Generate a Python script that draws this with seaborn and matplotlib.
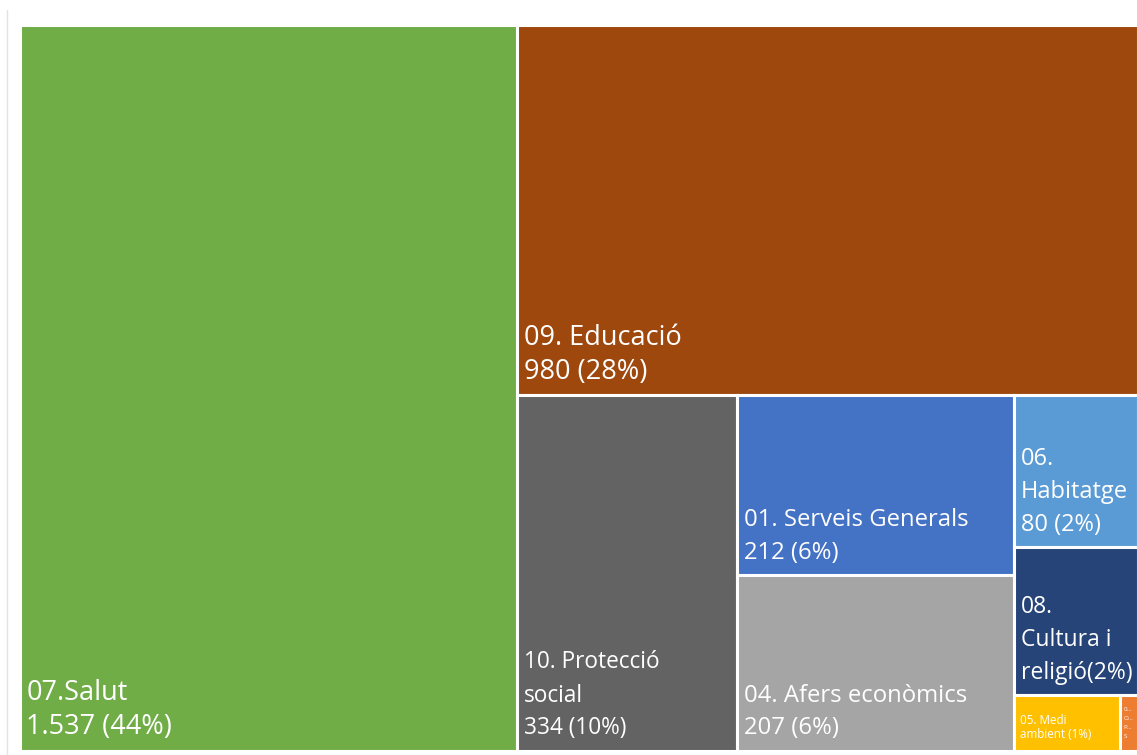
import matplotlib
matplotlib.use("Agg")
import matplotlib.pyplot as plt
from matplotlib.patches import Rectangle
import seaborn as sns

# ---- data ----
categories = ["07.Salut", "09. Educació", "10. Protecció social", "01. Serveis Generals",
              "04. Afers econòmics", "06. Habitatge", "08. Cultura i religió",
              "05. Medi ambient", "03. Ordre Públic i Seguretat"]
values = [1537, 980, 334, 212, 207, 80, 78, 25, 4]
value_labels = ["1.537", "980", "334", "212", "207", "80", "78", "25", "4"]
pct_labels = ["(44%)", "(28%)", "(10%)", "(6%)", "(6%)", "(2%)", "(2%)", "(1%)", "(0%)"]
colors = ["#70AD47", "#9E480E", "#636363", "#4472C4", "#A5A5A5",
          "#5B9BD5", "#264478", "#FFC000", "#ED7D31"]

# label lines as they are wrapped in the tiles
label_lines = [
    ["07.Salut", "1.537 (44%)"],
    ["09. Educació", "980 (28%)"],
    ["10. Protecció", "social", "334 (10%)"],
    ["01. Serveis Generals", "212 (6%)"],
    ["04. Afers econòmics", "207 (6%)"],
    ["06.", "Habitatge", "80 (2%)"],
    ["08.", "Cultura i", "religió(2%)"],
    ["05. Medi", "ambient (1%)"],
    ["0...", "O...", "P...", "S"],
]
font_sizes = [19.5, 19.5, 16.3, 17.2, 17.2, 17, 16.5, 8.4, 4.5]
line_steps = [34, 34, 33, 33, 33, 33, 33, 15, 9]

W, H = 1115.0, 723.0


def worst(row, length):
    s = sum(row)
    return max(max(length ** 2 * r / s ** 2, s ** 2 / (length ** 2 * r)) for r in row)


def squarify(vals, x, y, w, h):
    total = sum(vals)
    areas = [v / total * w * h for v in vals]
    rects = []
    i = 0
    while i < len(areas):
        length = min(w, h)
        row = [areas[i]]
        i += 1
        while i < len(areas) and worst(row + [areas[i]], length) <= worst(row, length):
            row.append(areas[i])
            i += 1
        s = sum(row)
        if w >= h:
            cw = s / h
            yy = y
            for a in row:
                rh = a / cw
                rects.append((x, yy, cw, rh))
                yy += rh
            x += cw
            w -= cw
        else:
            rh = s / w
            xx = x
            for a in row:
                rw = a / rh
                rects.append((xx, y, rw, rh))
                xx += rw
            y += rh
            h -= rh
    return rects


sns.set_theme(style="white")
plt.rcParams["font.family"] = ["Open Sans", "DejaVu Sans"]

fig = plt.figure(figsize=(11.37, 7.55), dpi=100)
ax = fig.add_axes([19.5 / 1137, 4.5 / 755, 1118 / 1137, 726 / 755])
ax.set_xlim(0, W)
ax.set_ylim(H, 0)
ax.axis("off")

rects = squarify(values, 0, 0, W, H)
for (x, y, w, h), c in zip(rects, colors):
    ax.add_patch(Rectangle((x, y), w, h, facecolor=c, edgecolor="white", linewidth=2.2, zorder=1))

for (x, y, w, h), lines, fs, step in zip(rects, label_lines, font_sizes, line_steps):
    n = len(lines)
    base_off = 16 if fs > 10 else (12 if fs > 5 else 13)
    left_off = 7 if fs > 10 else (6 if fs > 5 else 3)
    for k, line in enumerate(lines):
        dy = base_off + (n - 1 - k) * step
        ax.annotate(line, xy=(x, y + h), xytext=(left_off, dy), textcoords="offset pixels",
                    ha="left", va="baseline", color="white", fontsize=fs, zorder=5,
                    annotation_clip=False)

# faint left rule
fig.add_artist(plt.Line2D([7 / 1137, 7 / 1137], [0, 1 - 10 / 755], transform=fig.transFigure,
                          color="#e3e3e3", linewidth=1))

fig.savefig("out.png", dpi=100)
